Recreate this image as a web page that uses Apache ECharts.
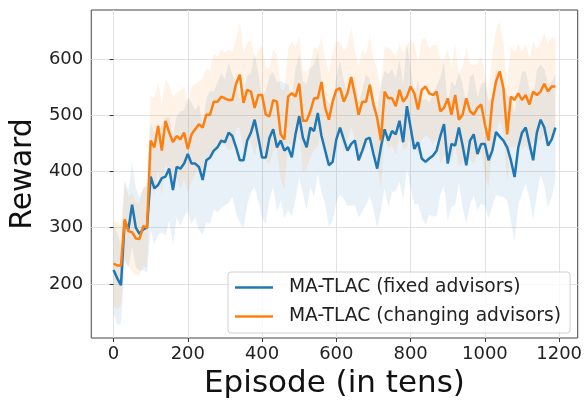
<!DOCTYPE html>
<html>
<head>
<meta charset="utf-8">
<script src="https://cdn.jsdelivr.net/npm/echarts@6/dist/echarts.min.js"></script>
<style>
html,body{margin:0;padding:0;background:#fff;}
#chart{width:585px;height:404px;}
</style>
</head>
<body>
<div id="chart"></div>
<script>
const episodes = [0,10,20,30,40,50,60,70,80,90,100,110,120,130,140,150,160,170,180,190,200,210,220,230,240,250,260,270,280,290,300,310,320,330,340,350,360,370,380,390,400,410,420,430,440,450,460,470,480,490,500,510,520,530,540,550,560,570,580,590,600,610,620,630,640,650,660,670,680,690,700,710,720,730,740,750,760,770,780,790,800,810,820,830,840,850,860,870,880,890,900,910,920,930,940,950,960,970,980,990,1000,1010,1020,1030,1040,1050,1060,1070,1080,1090,1100,1110,1120,1130,1140,1150,1160,1170,1180,1190];

const fixedMean = [225,210,198,312,297,341,300,289,297,300,
391,370,376,388,391,405,367,408,405,414,
431,414,414,408,385,420,425,437,443,455,
452,469,463,443,420,420,455,469,492,460,
425,425,460,475,443,455,437,443,425,466,
498,460,443,478,472,504,463,437,411,417,
457,478,457,437,449,455,420,437,457,460,
431,405,443,475,455,472,466,490,452,516,
478,440,452,423,417,423,428,437,463,484,
414,449,446,478,446,411,455,466,431,449,
449,420,437,470,462,455,443,420,390,443,
469,478,449,420,469,492,478,446,457,478];

const changingMean = [236,233,233,315,294,292,281,280,303,300,
455,443,481,437,490,469,452,463,457,469,
440,466,475,484,478,501,501,524,524,533,
530,527,527,556,572,522,545,542,513,536,
536,501,498,527,524,466,457,533,539,533,
556,490,490,507,530,530,559,513,492,524,
545,548,524,539,568,536,501,524,524,554,
519,495,455,542,530,530,516,545,524,533,
551,539,510,545,551,539,536,542,507,513,
530,501,536,492,501,530,507,501,513,519,
484,455,524,560,578,548,466,533,527,539,
527,536,519,542,536,542,556,542,551,551];

const fixedStd = [78,82,70,72,68,75,70,65,72,80,
95,100,88,96,105,92,98,90,102,95,
100,108,95,112,98,110,118,105,115,120,
112,125,108,118,110,122,115,105,120,112,
108,118,110,102,115,106,120,112,104,116,
110,100,112,105,118,108,100,95,110,104,
112,118,105,98,110,115,102,108,116,104,
98,106,112,104,118,110,100,108,102,112,
106,98,110,104,112,100,108,116,104,110,
102,112,106,98,110,104,114,108,100,106,
110,104,98,112,106,100,94,108,115,102,
108,100,96,106,112,98,104,110,102,96];

const changingStd = [75,78,72,68,62,70,66,64,70,72,
80,86,78,82,75,84,80,76,88,82,
78,85,80,76,88,82,78,86,80,84,
82,90,86,80,94,88,84,92,86,80,
88,82,86,90,84,80,88,84,92,86,
84,90,86,82,92,86,80,88,84,90,
86,82,90,84,88,80,86,92,84,88,
82,88,86,80,90,84,88,82,86,90,
84,88,82,90,86,80,88,84,92,86,
88,84,90,82,86,92,84,88,80,86,
90,84,86,92,88,82,86,90,84,88,
86,90,84,88,82,86,90,84,88,86];

const xTicks = [0,200,400,600,800,1000,1200];
const yTicks = [200,300,400,500,600];
const seriesNames = ['MA-TLAC (fixed advisors)','MA-TLAC (changing advisors)'];
const colors = ['#1f77b4','#ff7f0e'];

const pairs = (arr) => episodes.map((x,i)=>[x,arr[i]]);

const FONT = 'DejaVu Sans';
const chart = echarts.init(document.getElementById('chart'), null, {renderer:'canvas'});

// shaded band (mean ± std) drawn as a polygon through the chart's own coordinate system
function bandSeries(name, mean, std, color){
  return {
    name:name+'_band', type:'custom', silent:true, z:1,
    data:[0],
    renderItem:function(params, api){
      const upper = episodes.map((x,i)=>api.coord([x, mean[i]+std[i]]));
      const lower = episodes.map((x,i)=>api.coord([x, mean[i]-std[i]])).reverse();
      return {type:'polygon', shape:{points:upper.concat(lower)},
              style:{fill:color, opacity:0.1}};
    }
  };
}

chart.setOption({
  animation:false,
  grid:{left:90, right:7, top:10, bottom:60, show:true, borderColor:'#444', borderWidth:1, backgroundColor:'transparent'},
  legend:{
    data:[{name:seriesNames[0], icon:'rect'},{name:seriesNames[1], icon:'rect'}],
    orient:'vertical', left:228, top:272,
    itemWidth:38, itemHeight:2.5, itemGap:10,
    padding:[6,9,7,7],
    backgroundColor:'rgba(255,255,255,0.8)', borderColor:'#d0d0d0', borderWidth:1, borderRadius:3,
    textStyle:{fontFamily:FONT, fontSize:18.7, color:'#222', padding:[0,0,0,11]}
  },
  xAxis:{
    type:'value', min:-60, max:1250,
    name:'Episode (in tens)', nameLocation:'middle', nameGap:30,
    nameTextStyle:{fontFamily:FONT, fontSize:31, color:'#111'},
    axisLine:{show:false},
    axisTick:{show:true, inside:false, length:4, lineStyle:{color:'#333'}, customValues:xTicks},
    axisLabel:{fontFamily:FONT, fontSize:18, color:'#222', margin:7, customValues:xTicks,
               formatter:function(v){return String(v);}},
    splitLine:{show:true, lineStyle:{color:'#e2e2e2', width:1}}
  },
  yAxis:{
    type:'value', min:104, max:687,
    name:'Reward', nameLocation:'middle', nameGap:52,
    nameTextStyle:{fontFamily:FONT, fontSize:30, color:'#111'},
    axisLine:{show:false},
    axisTick:{show:true, inside:false, length:4, lineStyle:{color:'#333'}, customValues:yTicks},
    axisLabel:{fontFamily:FONT, fontSize:18, color:'#222', margin:8, customValues:yTicks,
               formatter:function(v){return String(v);}},
    splitLine:{show:true, lineStyle:{color:'#e2e2e2', width:1}}
  },
  series:[
    bandSeries('fixed', fixedMean, fixedStd, colors[0]),
    bandSeries('changing', changingMean, changingStd, colors[1]),
    {name:seriesNames[0], type:'line', data:pairs(fixedMean), showSymbol:false, symbol:'none',
     lineStyle:{color:colors[0], width:2.5}, itemStyle:{color:colors[0]}, z:3},
    {name:seriesNames[1], type:'line', data:pairs(changingMean), showSymbol:false, symbol:'none',
     lineStyle:{color:colors[1], width:2.5}, itemStyle:{color:colors[1]}, z:4}
  ]
});
</script>
</body>
</html>
